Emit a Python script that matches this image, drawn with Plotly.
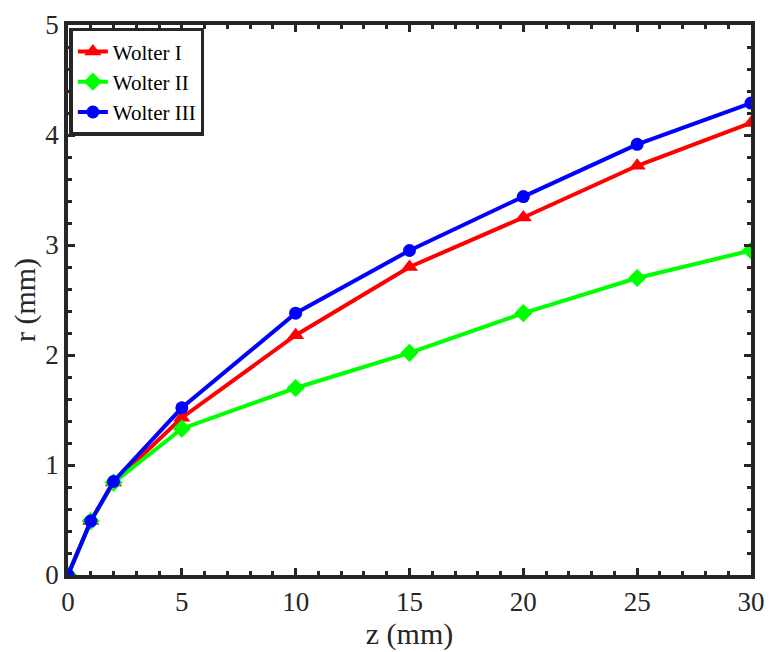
import plotly.graph_objects as go

z = [0, 1, 2, 5, 10, 15, 20, 25, 30]
r_wolter1 = [0, 0.49, 0.84, 1.43, 2.18, 2.80, 3.25, 3.72, 4.11]
r_wolter2 = [0, 0.49, 0.84, 1.33, 1.70, 2.02, 2.38, 2.70, 2.95]
r_wolter3 = [0, 0.49, 0.85, 1.52, 2.38, 2.95, 3.44, 3.915, 4.29]
x_ticks = [0, 5, 10, 15, 20, 25, 30]
y_ticks = [0, 1, 2, 3, 4, 5]

FONT = "Liberation Serif, Times New Roman, serif"
AX = "#262626"

fig = go.Figure()
fig.add_trace(go.Scatter(x=z, y=r_wolter1, name="Wolter I", mode="lines+markers",
                         line=dict(color="#ff0000", width=4),
                         marker=dict(symbol="triangle-up", size=15, color="#ff0000")))
fig.add_trace(go.Scatter(x=z, y=r_wolter2, name="Wolter II", mode="lines+markers",
                         line=dict(color="#00ff00", width=4),
                         marker=dict(symbol="diamond", size=14, color="#00ff00")))
fig.add_trace(go.Scatter(x=z, y=r_wolter3, name="Wolter III", mode="lines+markers",
                         line=dict(color="#0000ff", width=4),
                         marker=dict(symbol="circle", size=13, color="#0000ff")))

axis_common = dict(showline=True, linecolor=AX, linewidth=3.5, mirror="allticks",
                   ticks="inside", ticklen=7, tickwidth=3, tickcolor=AX,
                   showgrid=False, zeroline=False, automargin=False,
                   tickfont=dict(family=FONT, size=27, color="#262626"),
                   title_font=dict(family=FONT, size=30, color="#262626"))

fig.update_xaxes(range=[0, 30], tickvals=x_ticks, ticktext=[str(v) for v in x_ticks],
                 minor=dict(dtick=1, ticks="inside", ticklen=4, tickwidth=3, tickcolor=AX),
                 title_text="z (mm)", title_standoff=2, **axis_common)
fig.update_yaxes(range=[0, 5], tickvals=y_ticks, ticktext=[str(v) for v in y_ticks],
                 minor=dict(dtick=0.2, ticks="inside", ticklen=4, tickwidth=3, tickcolor=AX),
                 title_text="r (mm)", title_standoff=6, **axis_common)

fig.update_layout(
    width=783, height=652,
    margin=dict(l=60, r=40, t=17, b=85),
    plot_bgcolor="white", paper_bgcolor="white",
    font=dict(family=FONT, color="black"),
    legend=dict(x=0.002, y=0.995, xanchor="left", yanchor="top",
                bgcolor="white", bordercolor=AX, borderwidth=3.5,
                font=dict(family=FONT, size=21, color="black"),
                itemwidth=30, tracegroupgap=0),
    showlegend=True,
)

fig.write_html("out.html")
